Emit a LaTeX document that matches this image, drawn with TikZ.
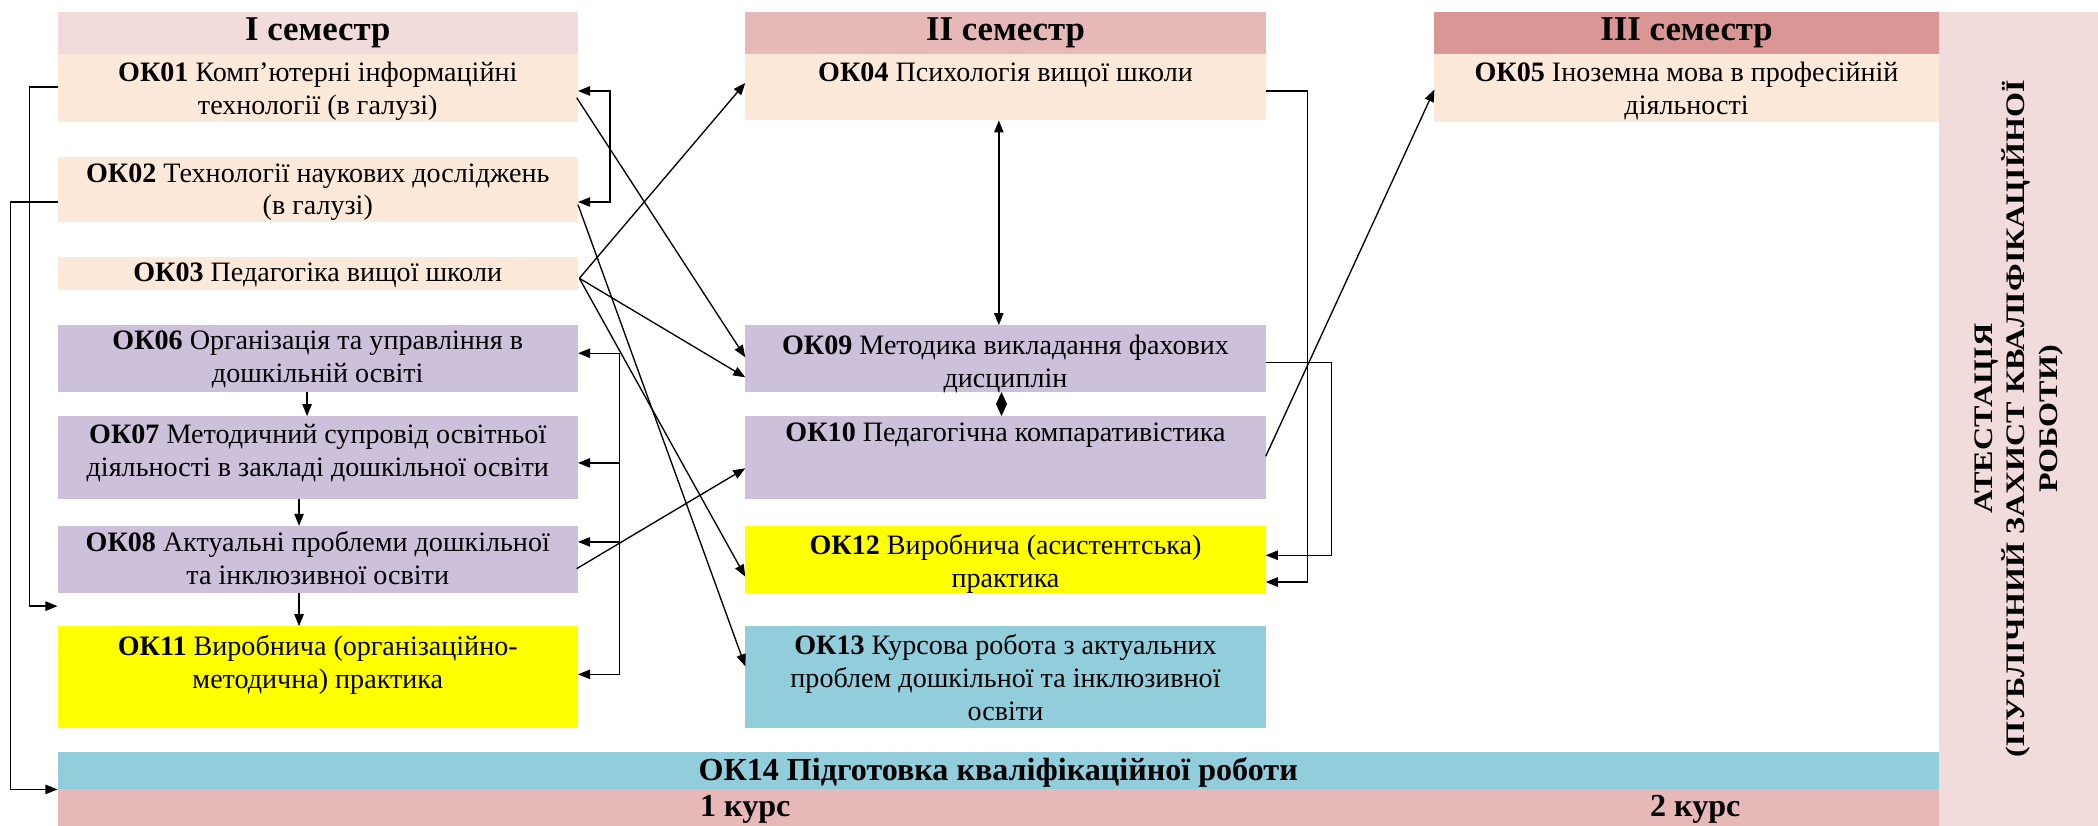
\documentclass[tikz,border=0pt]{standalone}
\usepackage{fontspec}
\setmainfont{Liberation Serif}
\usetikzlibrary{arrows.meta,calc}
\definecolor{hdrA}{HTML}{F2DCDB}
\definecolor{hdrB}{HTML}{E6B8B7}
\definecolor{hdrC}{HTML}{DA9694}
\definecolor{peach}{HTML}{FDE9D9}
\definecolor{lilac}{HTML}{CCC0DA}
\definecolor{yel}{HTML}{FFFF00}
\definecolor{aqua}{HTML}{92CDDC}
\begin{document}
\begin{tikzpicture}[x=1pt,y=-1pt,
  box/.style={rectangle,draw=none,inner sep=0pt,outer sep=0pt,anchor=north west},
  txt/.style={inner sep=0pt,align=center,anchor=north,font=\fontsize{21}{24.5}\selectfont},
  hdr/.style={inner sep=0pt,font=\bfseries\fontsize{26}{30}\selectfont},
  barfont/.style={inner sep=0pt,font=\bfseries\fontsize{24}{28}\selectfont},
  arr/.style={line width=1pt,-{Triangle[length=9pt,width=7pt]}},
  arrb/.style={line width=1pt,{Triangle[length=9pt,width=7pt]}-{Triangle[length=9pt,width=7pt]}},
  ln/.style={line width=1pt}]
\useasboundingbox (0,0) rectangle (1568,617);
% column I
\node[box,fill=hdrA,minimum width=389pt,minimum height=31pt] (h1) at (43,9) {};
\node[box,fill=peach,minimum width=389pt,minimum height=51pt] (ok01) at (43,40) {};
\node[box,fill=peach,minimum width=389pt,minimum height=49pt] (ok02) at (43,117) {};
\node[box,fill=peach,minimum width=389pt,minimum height=25pt] (ok03) at (43,192) {};
\node[box,fill=lilac,minimum width=389pt,minimum height=50pt] (ok06) at (43,243) {};
\node[box,fill=lilac,minimum width=389pt,minimum height=62pt] (ok07) at (43,311) {};
\node[box,fill=lilac,minimum width=389pt,minimum height=50pt] (ok08) at (43,393) {};
\node[box,fill=yel,minimum width=389pt,minimum height=76pt] (ok11) at (43,468) {};
% column II
\node[box,fill=hdrB,minimum width=389pt,minimum height=31pt] (h2) at (557,9) {};
\node[box,fill=peach,minimum width=389pt,minimum height=50pt] (ok04) at (557,40) {};
\node[box,fill=lilac,minimum width=389pt,minimum height=50pt] (ok09) at (557,243) {};
\node[box,fill=lilac,minimum width=389pt,minimum height=62pt] (ok10) at (557,311) {};
\node[box,fill=yel,minimum width=389pt,minimum height=50pt] (ok12) at (557,393) {};
\node[box,fill=aqua,minimum width=389pt,minimum height=76pt] (ok13) at (557,468) {};
% column III
\node[box,fill=hdrC,minimum width=377pt,minimum height=31pt] (h3) at (1072,9) {};
\node[box,fill=peach,minimum width=377pt,minimum height=51pt] (ok05) at (1072,40) {};
% bottom bars and attestation column
\node[box,fill=aqua,minimum width=1406pt,minimum height=28pt] (ok14) at (43,562) {};
\node[box,fill=hdrB,minimum width=1406pt,minimum height=27pt] (kurs) at (43,590) {};
\node[box,fill=hdrA,minimum width=119pt,minimum height=608pt] (att) at (1449,9) {};

% texts
\node[hdr] (h1t) at (h1.center) {I семестр};
\node[hdr] (h2t) at (h2.center) {II семестр};
\node[hdr] (h3t) at (h3.center) {III семестр};
\node[txt] (t01) at ($(ok01.north)+(0,6)$) {\textbf{ОК01} Комп’ютерні інформаційні\\технології (в галузі)};
\node[txt] (t02) at ($(ok02.north)+(0,5)$) {\textbf{ОК02} Технології наукових досліджень\\(в галузі)};
\node[txt,anchor=center] (t03) at ($(ok03.center)+(0,1)$) {\textbf{ОК03} Педагогіка вищої школи};
\node[txt] (t06) at ($(ok06.north)+(0,4)$) {\textbf{ОК06} Організація та управління в\\дошкільній освіті};
\node[txt] (t07) at ($(ok07.north)+(0,6)$) {\textbf{ОК07} Методичний супровід освітньої\\діяльності в закладі дошкільної освіти};
\node[txt] (t08) at ($(ok08.north)+(0,4)$) {\textbf{ОК08} Актуальні проблеми дошкільної\\та інклюзивної освіти};
\node[txt] (t11) at ($(ok11.north)+(0,7)$) {\textbf{ОК11} Виробнича (організаційно-\\методична) практика};
\node[txt] (t04) at ($(ok04.north)+(0,7)$) {\textbf{ОК04} Психологія вищої школи};
\node[txt] (t09) at ($(ok09.north)+(0,7)$) {\textbf{ОК09} Методика викладання фахових\\дисциплін};
\node[txt] (t10) at ($(ok10.north)+(0,5)$) {\textbf{ОК10} Педагогічна компаративістика};
\node[txt] (t12) at ($(ok12.north)+(0,6)$) {\textbf{ОК12} Виробнича (асистентська)\\практика};
\node[txt] (t13) at ($(ok13.north)+(0,6)$) {\textbf{ОК13} Курсова робота з актуальних\\проблем дошкільної та інклюзивної\\освіти};
\node[txt] (t05) at ($(ok05.north)+(0,6)$) {\textbf{ОК05} Іноземна мова в професійній\\діяльності};
\node[barfont] (t14) at ($(ok14.center)+(0,1)$) {ОК14 Підготовка кваліфікаційної роботи};
\node[barfont] (k1) at (557,605) {1 курс};
\node[barfont] (k2) at (1267,605) {2 курс};
\node[inner sep=0pt,rotate=90,font=\bfseries\fontsize{20}{24}\selectfont] (attt) at (att.center) {\scalebox{1.2}[1]{\begin{tabular}{@{}c@{}}АТЕСТАЦІЯ\\(ПУБЛІЧНИЙ ЗАХИСТ КВАЛІФІКАЦІЙНОЇ\\РОБОТИ)\end{tabular}}};

% left long connectors
\draw[arr] ($(ok01.north west)+(0,25)$) -- ++(-21,0) |- ($(ok11.north west)+(0,-15)$);
\draw[arr] ($(ok02.north west)+(0,34)$) -- ++(-35,0) |- (kurs.north west);
% OK01 / OK02 bracket
\draw[arrb] ($(ok01.north east)+(0,28)$) -- ++(24,0) |- ($(ok02.north east)+(0,34)$);
% OK06..OK11 bracket
\coordinate (brtop) at ($(ok06.north east)+(31,21)$);
\coordinate (brbot) at ($(ok11.north east)+(31,36)$);
\coordinate (br07) at ($(ok07.north east)+(31,35)$);
\coordinate (br08) at ($(ok08.north east)+(31,12)$);
\draw[ln] (brtop) -- (brbot);
\draw[arr] (brtop) -- (ok06.east |- brtop);
\draw[arr] (br07) -- (ok07.east |- br07);
\draw[arr] (br08) -- (ok08.east |- br08);
\draw[arr] (brbot) -- (ok11.east |- brbot);
% vertical chain in column I
\draw[arr] ($(ok06.south)+(-8,0)$) -- ($(ok07.north)+(-8,0)$);
\draw[arr] ($(ok07.south)+(-14,0)$) -- ($(ok08.north)+(-14,0)$);
\draw[arr] ($(ok08.south)+(-14,0)$) -- ($(ok11.north)+(-14,0)$);
% crossing connectors
\draw[arr] ($(ok01.north east)+(-1,33)$) -- ($(ok09.north west)+(0,24)$);
\coordinate (o3) at ($(ok03.north east)+(1,16)$);
\draw[arr] (o3) -- ($(ok09.north west)+(0,39)$);
\draw[arr] (o3) -- ($(ok04.north west)+(0,22)$);
\draw[arr] (o3) -- ($(ok12.north west)+(0,38)$);
\draw[arr] ($(ok02.north east)+(0,36)$) -- ($(ok13.north west)+(0,30)$);
\draw[arr] ($(ok08.north east)+(-1,32)$) -- ($(ok10.north west)+(0,39)$);
% column II verticals
\draw[arrb] ($(ok04.south)+(-5,0)$) -- ($(ok09.north)+(-5,0)$);
\draw[line width=1pt,{Triangle[length=9pt,width=8pt]}-{Triangle[length=9pt,width=8pt]}] ($(ok09.south)+(-3,0)$) -- ($(ok10.north)+(-3,0)$);
% right connectors
\draw[arr] ($(ok04.north east)+(0,28)$) -- ++(31,0) |- ($(ok12.north east)+(0,42)$);
\draw[arr] ($(ok09.north east)+(0,28)$) -- ++(49,0) |- ($(ok12.north east)+(0,22)$);
\draw[arr] ($(ok10.north east)+(0,30)$) -- ($(ok05.north west)+(0,27)$);
\end{tikzpicture}
\end{document}
